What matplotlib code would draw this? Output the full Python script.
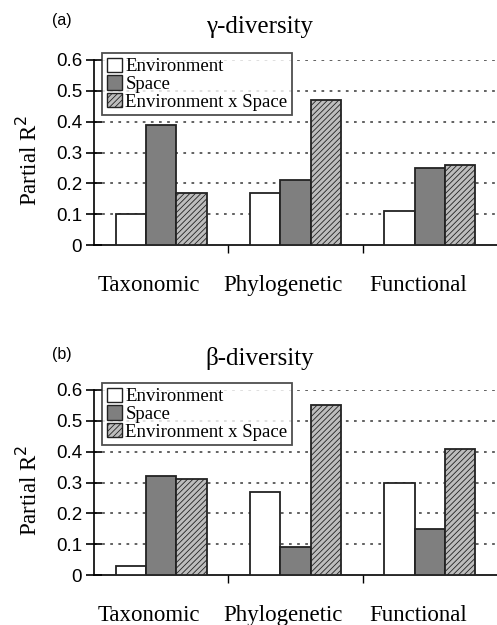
import matplotlib
matplotlib.use("Agg")
import matplotlib.pyplot as plt
from matplotlib.patches import Patch
import numpy as np

categories = ["Taxonomic", "Phylogenetic", "Functional"]
series = ["Environment", "Space", "Environment x Space"]
gamma_env = [0.10, 0.17, 0.11]
gamma_space = [0.39, 0.21, 0.25]
gamma_inter = [0.17, 0.47, 0.26]
beta_env = [0.03, 0.27, 0.30]
beta_space = [0.32, 0.09, 0.15]
beta_inter = [0.31, 0.55, 0.41]
yticks = [0, 0.1, 0.2, 0.3, 0.4, 0.5, 0.6]
ytick_labels = ["0", "0.1", "0.2", "0.3", "0.4", "0.5", "0.6"]

plt.rcParams['hatch.linewidth'] = 0.6
plt.rcParams['hatch.color'] = '#333333'

W, H = 497, 625
fig = plt.figure(figsize=(W / 100, H / 100), dpi=100)

serif = "Liberation Serif"
sans = "Liberation Sans"
edge = "#222222"
space_col = "#7f7f7f"
inter_col = "#bdbdbd"


def panel(top_px, bottom_px, env, space, inter, tag, tag_y, title, title_y):
    ax = fig.add_axes([94 / W, 1 - bottom_px / H, (W - 94) / W, (bottom_px - top_px) / H])
    x = np.arange(len(categories))
    w = 0.225
    ax.bar(x - w, env, w, color="white", edgecolor=edge, linewidth=1.3, zorder=3)
    ax.bar(x, space, w, color=space_col, edgecolor=edge, linewidth=1.3, zorder=3)
    ax.bar(x + w, inter, w, color=inter_col, edgecolor=edge, hatch="//////",
           linewidth=1.3, zorder=3)
    for yv in yticks[1:]:
        ax.axhline(yv, color="#555555", linestyle=(0, (1.5, 3)), linewidth=1.3, zorder=1)
    ax.set_xlim(-0.5, 2.5)
    ax.set_ylim(0, 0.6)
    ax.set_yticks(yticks)
    ax.set_yticklabels(ytick_labels, fontfamily=sans, fontsize=13.5)
    ax.tick_params(axis="y", direction="inout", length=11, width=1.2, pad=3)
    ax.set_xticks([0.5, 1.5])
    ax.set_xticklabels([])
    ax.tick_params(axis="x", direction="out", length=6, width=1.0)
    for cx, lab in zip(x, categories):
        ax.text(cx - 0.09, -0.13, lab, ha="center", va="center", fontfamily=serif,
                fontsize=16.5, transform=ax.transData, clip_on=False)
    for s in ["top", "right"]:
        ax.spines[s].set_visible(False)
    ax.spines["left"].set_linewidth(1.2)
    ax.spines["bottom"].set_linewidth(1.2)
    fig.text(29 / W, 1 - ((top_px + bottom_px) / 2 + 8) / H, "Partial R$^2$",
             rotation=90, ha="center", va="center", fontfamily=serif, fontsize=16.5)
    handles = [Patch(facecolor="white", edgecolor=edge),
               Patch(facecolor=space_col, edgecolor=edge),
               Patch(facecolor=inter_col, edgecolor=edge, hatch="//////")]
    leg = ax.legend(handles, series, loc="upper left",
                    bbox_to_anchor=(8 / (W - 94), 1 + 7 / (bottom_px - top_px)),
                    prop={"family": serif, "size": 13.5}, frameon=True, fancybox=False,
                    borderpad=0.25, labelspacing=0.0, handlelength=0.8,
                    handleheight=0.8, handletextpad=0.2, borderaxespad=0)
    leg.get_frame().set_edgecolor(edge)
    leg.get_frame().set_linewidth(1.3)
    leg.set_zorder(5)
    fig.text(62 / W, 1 - tag_y / H, tag, ha="center", va="center",
             fontfamily=sans, fontsize=11.5)
    fig.text(260 / W, 1 - title_y / H, title, ha="center", va="center",
             fontfamily=serif, fontsize=18)
    return ax


panel(60, 245, gamma_env, gamma_space, gamma_inter, "(a)", 20, "γ-diversity", 27)
panel(390, 575, beta_env, beta_space, beta_inter, "(b)", 355, "β-diversity", 359)

fig.savefig("out.png", dpi=100)
